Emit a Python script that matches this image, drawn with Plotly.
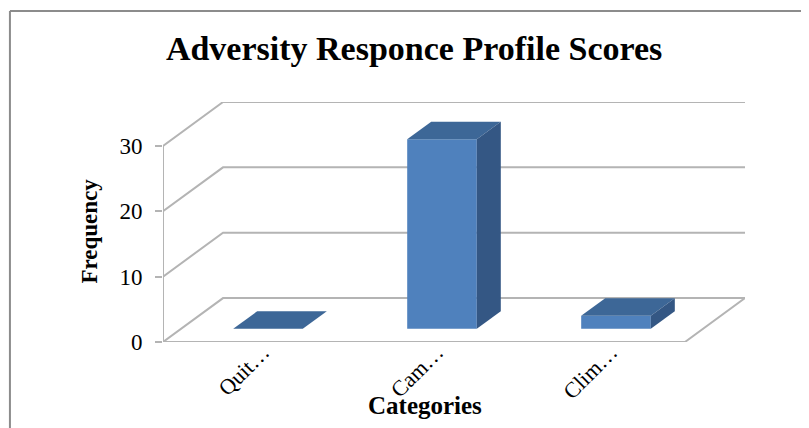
import plotly.graph_objects as go

# Data
categories = ["Quit…", "Cam…", "Clim…"]
frequency = [0, 29, 2]
y_ticks = [0, 10, 20, 30]

# 3D look (oblique projection) settings
DX = 0.345          # depth shift in category units
DY = 6.72           # depth shift in value units
F0, F1 = 0.3, 0.7   # bar depth (fraction of floor depth)
BAR_W = 0.4
X0, X1 = -0.5, len(categories) - 0.5
YMAX = 30

FRONT = "#4F81BD"
TOP = "#3D6797"
SIDE = "#345784"
GRID = "#B4B4B4"
SERIF = "Palatino Linotype, Book Antiqua, Palatino, Liberation Serif, serif"

fig = go.Figure()

# walls, floor and front axis as shapes under the bars
shapes = []
for t in y_ticks:
    shapes.append(dict(
        type="path", xref="x", yref="y", layer="below",
        path=f"M {X0},{t} L {X0 + DX},{t + DY} L {X1 + DX},{t + DY}",
        line=dict(color=GRID, width=2),
    ))
shapes.append(dict(
    type="path", xref="x", yref="y", layer="below",
    path=f"M {X0},0 L {X1},0 L {X1 + DX},{DY}",
    line=dict(color=GRID, width=2),
))
shapes.append(dict(
    type="line", xref="x", yref="y", layer="below",
    x0=X0, x1=X0, y0=0, y1=YMAX, line=dict(color=GRID, width=2),
))

# chart border (top and left only are visible)
shapes.append(dict(type="line", xref="paper", yref="paper", x0=-0.263, x1=1.2,
                   y0=1.379, y1=1.379, line=dict(color="#8C8C8C", width=2)))
shapes.append(dict(type="line", xref="paper", yref="paper", x0=-0.263, x1=-0.263,
                   y0=1.379, y1=-0.5, line=dict(color="#8C8C8C", width=2)))

# bar front faces
xs = [i + F0 * DX for i in range(len(categories))]
fig.add_trace(go.Bar(
    x=xs, y=frequency, base=F0 * DY, width=BAR_W,
    marker=dict(color=FRONT, line=dict(width=0)), hoverinfo="skip",
))

# bar top and side faces
d = F1 - F0
for i, v in enumerate(frequency):
    xl = i - BAR_W / 2 + F0 * DX
    xr = xl + BAR_W
    yb = F0 * DY
    yt = yb + v
    fig.add_trace(go.Scatter(
        x=[xl, xr, xr + d * DX, xl + d * DX, xl],
        y=[yt, yt, yt + d * DY, yt + d * DY, yt],
        mode="lines", fill="toself", fillcolor=TOP, line=dict(width=0),
        hoverinfo="skip",
    ))
    if v > 0:
        fig.add_trace(go.Scatter(
            x=[xr, xr + d * DX, xr + d * DX, xr, xr],
            y=[yb, yb + d * DY, yt + d * DY, yt, yb],
            mode="lines", fill="toself", fillcolor=SIDE, line=dict(width=0),
            hoverinfo="skip",
        ))

# page body has an 8px margin, so the figure is 8px smaller and shifted
fig.update_layout(
    width=801, height=420,
    margin=dict(l=155, r=64, t=94, b=86),
    paper_bgcolor="white", plot_bgcolor="white",
    showlegend=False,
    font=dict(family=SERIF, color="black"),
    title=dict(
        text="<b>Adversity Responce Profile Scores</b>",
        font=dict(size=34, family=SERIF, color="black"),
        x=0.507, xref="container", xanchor="center",
        y=0.905, yref="container", yanchor="middle",
    ),
    xaxis=dict(
        range=[X0, X1 + DX], showgrid=False, zeroline=False, showline=False,
        tickvals=[i + 0.075 for i in range(len(categories))],
        ticktext=categories, tickangle=-45, ticks="",
        ticklabelstandoff=-8,
        tickfont=dict(size=22, family=SERIF, color="black"),
    ),
    yaxis=dict(
        range=[0, YMAX + DY], showgrid=False, zeroline=False, showline=False,
        tickvals=y_ticks, ticks="outside", ticklen=7, tickcolor=GRID, tickwidth=2,
        ticklabelstandoff=8,
        tickfont=dict(size=23, family=SERIF, color="black"),
    ),
    annotations=[
        dict(text="<b>Frequency</b>", textangle=-90, x=-0.1254, y=0.46,
             xref="paper", yref="paper", xanchor="center", yanchor="middle",
             showarrow=False, font=dict(size=23, family=SERIF, color="black")),
        dict(text="<b>Categories</b>", x=0.450, y=-0.2625,
             xref="paper", yref="paper", xanchor="center", yanchor="middle",
             showarrow=False, font=dict(size=25, family=SERIF, color="black")),
    ],
    shapes=shapes,
)

fig.write_html("out.html")
